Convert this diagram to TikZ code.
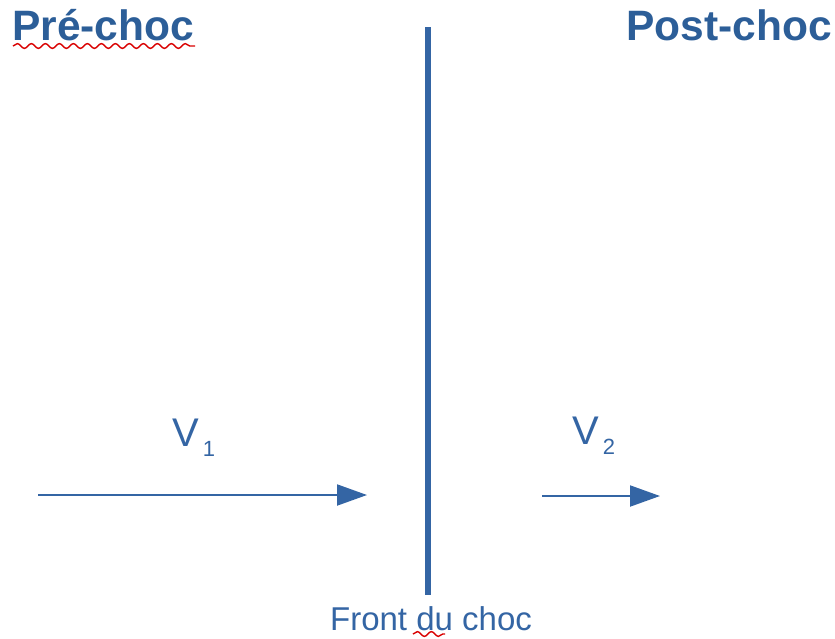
\documentclass[tikz,border=0pt]{standalone}
\usepackage{fontspec}
\setmainfont{Liberation Sans}
\usetikzlibrary{arrows.meta,decorations.pathmorphing}
\definecolor{lineblue}{HTML}{3465A4}
\definecolor{titleblue}{HTML}{2C5E98}
\tikzset{
  title/.style={inner sep=0pt,anchor=base west,text=titleblue,font=\fontsize{42.5}{50}\bfseries\selectfont},
  label/.style={inner sep=0pt,anchor=base west,text=lineblue,font=\fontsize{40}{46}\selectfont},
  caption/.style={inner sep=0pt,anchor=base,text=lineblue,font=\fontsize{33}{40}\selectfont},
  flow/.style={draw=lineblue,line width=2pt,-{Triangle[length=30pt,width=21pt]}},
  front/.style={draw=lineblue,line width=6pt},
  spell/.style={draw=red!85!black,line width=1.4pt,decorate,decoration={snake,amplitude=2.4pt,segment length=14pt}}
}
\newcommand{\subnum}[1]{\hspace{4pt}\raisebox{-10pt}{\fontsize{22}{24}\selectfont #1}}
\begin{document}
\begin{tikzpicture}[x=1pt,y=-1pt]
\useasboundingbox (0,0) rectangle (835,638);
\node[title] (pre) at (12,40) {Pré-choc};
\node[title] (post) at (626,40) {Post-choc};
\coordinate (ftop) at (428,27);
\coordinate (fbot) at (428,595);
\draw[front] (ftop) -- (fbot);
\node[caption] (fc) at (431,630) {Front du choc};
\node[label] (v1) at (172,446) {V\subnum{1}};
\node[label] (v2) at (572,444) {V\subnum{2}};
\coordinate (a1s) at (38,495);
\coordinate (a1e) at (367,495);
\coordinate (a2s) at (542,496);
\coordinate (a2e) at (660,496);
\draw[flow] (a1s) -- (a1e);
\draw[flow] (a2s) -- (a2e);
\coordinate (w1s) at (13,46);
\coordinate (w1e) at (195,46);
\draw[spell] (w1s) -- (w1e);
\coordinate (w2s) at (413,634);
\coordinate (w2e) at (445,634);
\draw[spell] (w2s) -- (w2e);
\end{tikzpicture}
\end{document}
